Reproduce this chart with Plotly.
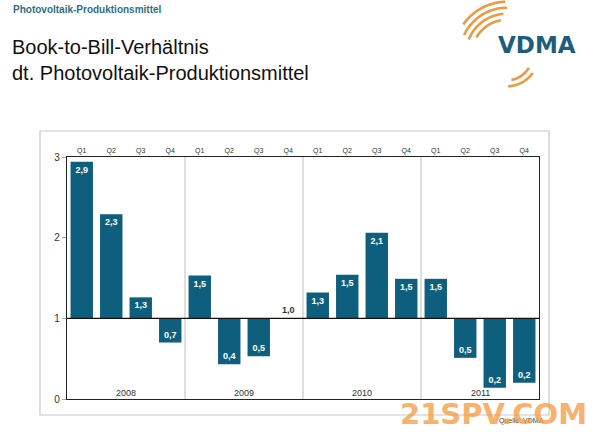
import numpy as np
import plotly.graph_objects as go

# ---- data ----
years = ["2008", "2009", "2010", "2011"]
quarters = ["Q1", "Q2", "Q3", "Q4"]
ratio = [2.94, 2.29, 1.26, 0.70,
         1.53, 0.43, 0.53, 1.00,
         1.32, 1.54, 2.06, 1.49,
         1.49, 0.51, 0.14, 0.20]
ratio_labels = ["2,9", "2,3", "1,3", "0,7",
                "1,5", "0,4", "0,5", "1,0",
                "1,3", "1,5", "2,1", "1,5",
                "1,5", "0,5", "0,2", "0,2"]
baseline = 1.0
y_ticks = [0, 1, 2, 3]

BAR = "#0E5F7E"
W, H = 600, 434
L, R, T, B = 67, 61, 157, 35
PW, PH = W - L - R, H - T - B


def px(x):
    return (x - L) / PW


def py(y):
    return (H - B - y) / PH


n = len(ratio)
xs = list(range(n))
heights = [v - baseline for v in ratio]
positions = ["outside" if abs(h) < 1e-9 else "inside" for h in heights]

fig = go.Figure()
fig.add_trace(go.Bar(
    x=xs, y=heights, base=[baseline] * n,
    marker=dict(color=BAR, line=dict(width=0)),
    width=0.76,
    text=ratio_labels, textposition=positions,
    insidetextanchor="end", textangle=0,
    insidetextfont=dict(color="white", size=9, family="Arial, Liberation Sans", weight="bold"),
    outsidetextfont=dict(color="#333333", size=9, family="Arial, Liberation Sans", weight="bold"),
    cliponaxis=False, hoverinfo="skip", showlegend=False,
))

# year separators
for k in range(1, len(years)):
    fig.add_shape(type="line", x0=k * 4 - 0.5, x1=k * 4 - 0.5, y0=0, y1=3,
                  xref="x", yref="y", line=dict(color="#BDBDBD", width=1), layer="below")
# baseline
fig.add_shape(type="line", x0=-0.5, x1=n - 0.5, y0=baseline, y1=baseline,
              xref="x", yref="y", line=dict(color="#111111", width=1.2))

# year labels
for k, yr in enumerate(years):
    fig.add_annotation(x=k * 4 + 1.5, y=0.08, text=yr, showarrow=False,
                       xref="x", yref="y", font=dict(size=9, color="#333333",
                                                     family="Arial, Liberation Sans"))

# outer gray frame
fig.add_shape(type="rect", xref="paper", yref="paper",
              x0=px(40), x1=px(549), y0=py(415), y1=py(131),
              line=dict(color="#C8C8C8", width=1.2), layer="below")

# titles
fig.add_annotation(xref="paper", yref="paper", x=px(11), y=py(10), xanchor="left", yanchor="middle",
                   text="<b>Photovoltaik-Produktionsmittel</b>", showarrow=False,
                   font=dict(size=10, color="#2E6F86", family="Arial, Liberation Sans"))
fig.add_annotation(xref="paper", yref="paper", x=px(10), y=py(47), xanchor="left", yanchor="middle",
                   text="Book-to-Bill-Verhältnis", showarrow=False,
                   font=dict(size=20, color="#111111", family="Arial, Liberation Sans"))
fig.add_annotation(xref="paper", yref="paper", x=px(10), y=py(73), xanchor="left", yanchor="middle",
                   text="dt. Photovoltaik-Produktionsmittel", showarrow=False,
                   font=dict(size=20, color="#111111", family="Arial, Liberation Sans"))

# VDMA logo
fig.add_annotation(xref="paper", yref="paper", x=px(537), y=py(45), xanchor="center", yanchor="middle",
                   text="<b>VDMA</b>", showarrow=False,
                   font=dict(size=23, color="#1C5E7C", family="DejaVu Sans"))


def arc_path(cx, cy, r, a0, a1, w):
    # a band between radius r and r+w from angle a0 to a1 (degrees, math orientation)
    t = np.linspace(np.radians(a0), np.radians(a1), 30)
    outer = [(cx + (r + w) * np.cos(a), cy - (r + w) * np.sin(a)) for a in t]
    inner = [(cx + r * np.cos(a), cy - r * np.sin(a)) for a in t[::-1]]
    pts = outer + inner
    d = "M " + " L ".join(f"{px(x):.5f},{py(y):.5f}" for x, y in pts) + " Z"
    return d


for r, a0, a1 in [(34, 100, 150), (40, 95, 158), (46, 90, 155), (52, 92, 145)]:
    fig.add_shape(type="path", xref="paper", yref="paper", path=arc_path(507, 55, r, a0, a1, 2.6),
                  fillcolor="#EA9A45", line=dict(width=0))
for r, a0, a1 in [(24, -80, -30), (30, -88, -35)]:
    fig.add_shape(type="path", xref="paper", yref="paper", path=arc_path(507, 55, r, a0, a1, 2.6),
                  fillcolor="#EA9A45", line=dict(width=0))

# source and watermark
fig.add_annotation(xref="paper", yref="paper", x=px(521), y=py(421), xanchor="center", yanchor="middle",
                   text="Quelle: VDMA", showarrow=False,
                   font=dict(size=7, color="#444444", family="Arial, Liberation Sans"))
fig.add_annotation(xref="paper", yref="paper", x=px(493), y=py(414), xanchor="center", yanchor="middle",
                   text="<b>21SPV.COM</b>", showarrow=False, opacity=0.8,
                   font=dict(size=29, color="#F5A04A", family="DejaVu Sans"))

fig.update_layout(
    width=W, height=H, margin=dict(l=L, r=R, t=T, b=B),
    paper_bgcolor="white", plot_bgcolor="white",
    bargap=0.24,
    xaxis=dict(range=[-0.5, n - 0.5], side="top",
               tickmode="array", tickvals=xs, ticktext=quarters * len(years),
               tickfont=dict(size=7, color="#333333", family="Arial, Liberation Sans"),
               showgrid=False, zeroline=False, ticks="",
               showline=True, mirror=True, linecolor="#222222", linewidth=1.2),
    yaxis=dict(range=[0, 3], tickmode="array", tickvals=y_ticks,
               tickfont=dict(size=10, color="#333333", family="Arial, Liberation Sans"),
               ticks="outside", ticklen=4, tickcolor="#AAAAAA",
               showgrid=False, zeroline=False,
               showline=True, mirror=True, linecolor="#222222", linewidth=1.2),
)

fig.write_html("out.html")
